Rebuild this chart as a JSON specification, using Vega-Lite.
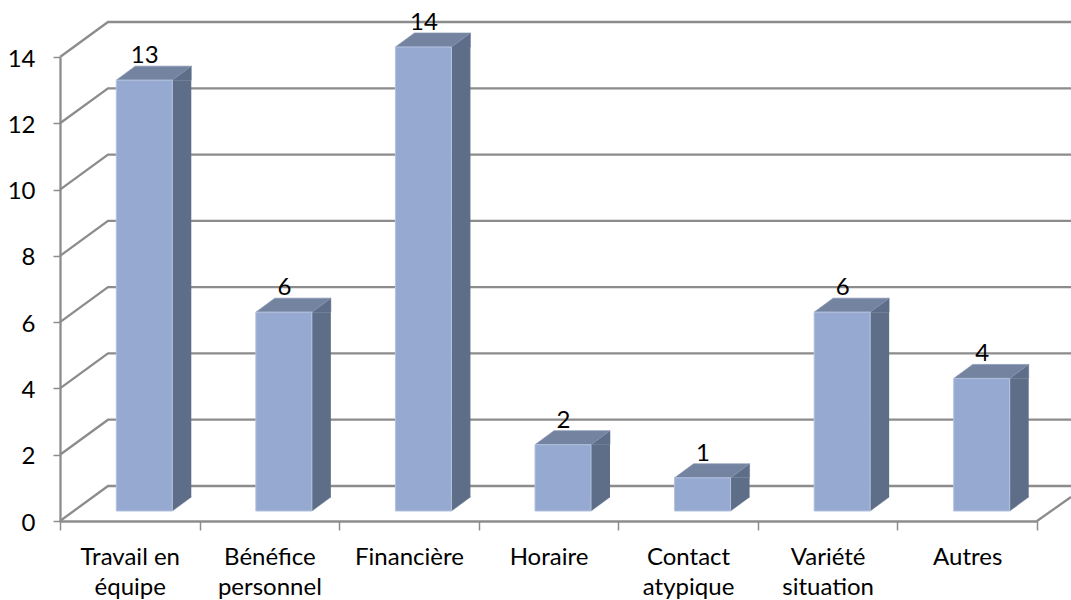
{
"$schema":"https://vega.github.io/schema/vega-lite/v6.json",
"width":977,"height":464,
"autosize":{"type":"none"},
"padding":{"left":60,"top":57,"right":34,"bottom":79},
"background":"white",
"config":{"view":{"stroke":null},"font":"Lato"},
"datasets":{
"bars":[{"cat":"Travail en équipe","val":13},{"cat":"Bénéfice personnel","val":6},{"cat":"Financière","val":14},{"cat":"Horaire","val":2},{"cat":"Contact atypique","val":1},{"cat":"Variété situation","val":6},{"cat":"Autres","val":4}],
"grid":[{"t":0},{"t":2},{"t":4},{"t":6},{"t":8},{"t":10},{"t":12},{"t":14}]
},
"data":{"name":"bars"},
"layer":[
{"data":{"name":"grid"},
 "mark":{"type":"point","shape":"M0 0L48 -35L1011 -35","size":4,"filled":false,"stroke":"#8c8c8c","strokeWidth":2.3,"opacity":1,"clip":false},
 "encoding":{
  "x":{"datum":"Travail en équipe","type":"nominal","bandPosition":0,
   "scale":{"type":"band","domain":["Travail en équipe","Bénéfice personnel","Financière","Horaire","Contact atypique","Variété situation","Autres"],"paddingInner":0,"paddingOuter":0},
   "axis":{"title":null,"labelAngle":0,"domainColor":"#8c8c8c","domainWidth":2.3,"tickColor":"#8c8c8c","tickWidth":1.5,"tickSize":9,"tickBand":"extent","labelFontSize":24,"labelColor":"#000","labelPadding":15,"labelLineHeight":30,"labelLimit":200,
    "labelExpr":"datum.value=='Travail en équipe'?['Travail en','équipe']:datum.value=='Bénéfice personnel'?['Bénéfice','personnel']:datum.value=='Contact atypique'?['Contact','atypique']:datum.value=='Variété situation'?['Variété','situation']:datum.value"}},
  "y":{"field":"t","type":"quantitative","scale":{"domain":[0,14],"nice":false},
   "axis":{"title":null,"values":[0,2,4,6,8,10,12,14],"grid":false,"domainColor":"#8c8c8c","domainWidth":2.3,"tickColor":"#8c8c8c","tickWidth":1.5,"tickSize":7,"labelFontSize":24,"labelColor":"#000","labelPadding":18,"labelOffset":2}}
 }},
{"data":{"values":[{"t":0}]},
 "mark":{"type":"point","shape":"M0 0L34 -24","size":4,"filled":false,"stroke":"#8c8c8c","strokeWidth":2.3,"opacity":1,"clip":false},
 "encoding":{"x":{"datum":"Autres","type":"nominal","bandPosition":1},"y":{"field":"t","type":"quantitative"}}},
{"mark":{"type":"bar","width":19,"xOffset":52,"yOffset":-10,"y2Offset":-24,"fill":"#5f6e88"},
 "encoding":{"x":{"field":"cat","type":"nominal"},"y":{"field":"val","type":"quantitative"},"y2":{"datum":0}}},
{"mark":{"type":"point","shape":"M42.5 -10L61.5 -24L61.5 -10Z","size":4,"filled":true,"fill":"#5f6e88","stroke":"#5f6e88","strokeWidth":0.5,"opacity":1},
 "encoding":{"x":{"field":"cat","type":"nominal"},"y":{"field":"val","type":"quantitative"}}},
{"mark":{"type":"point","shape":"M42.5 -10L61.5 -24L42.5 -24Z","size":4,"filled":true,"fill":"#5f6e88","stroke":"#5f6e88","strokeWidth":0.5,"opacity":1},
 "encoding":{"x":{"field":"cat","type":"nominal"},"y":{"datum":0}}},
{"mark":{"type":"point","shape":"M-13.5 -10L42.5 -10L61.5 -24L5.5 -24Z","size":4,"filled":true,"fill":"#74839f","stroke":"#8494b3","strokeWidth":0.7,"opacity":1},
 "encoding":{"x":{"field":"cat","type":"nominal"},"y":{"field":"val","type":"quantitative"}}},
{"mark":{"type":"bar","width":56,"xOffset":14.5,"yOffset":-10,"y2Offset":-10,"fill":"#95a9d1","stroke":"#b3c2de","strokeWidth":1},
 "encoding":{"x":{"field":"cat","type":"nominal"},"y":{"field":"val","type":"quantitative"},"y2":{"datum":0}}},
{"mark":{"type":"text","dx":15,"dy":-34,"fontSize":24,"color":"#000","baseline":"middle","align":"center"},
 "encoding":{"x":{"field":"cat","type":"nominal"},"y":{"field":"val","type":"quantitative"},"text":{"field":"val","type":"quantitative"}}}
]
}
